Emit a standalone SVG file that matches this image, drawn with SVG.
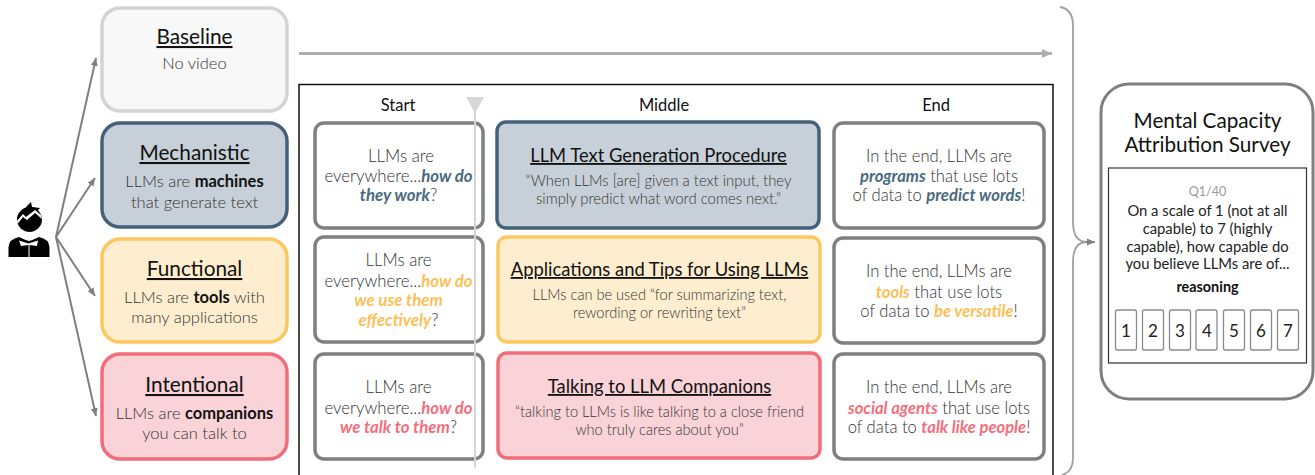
<svg xmlns="http://www.w3.org/2000/svg" width="1315" height="475" viewBox="0 0 1315 475">
<defs>
<marker id="ah" markerUnits="userSpaceOnUse" markerWidth="10" markerHeight="10" refX="8" refY="5" orient="auto"><path d="M0 1.5L8 5L0 8.5Z" fill="#7f7f7f"/></marker>
<marker id="ahl" markerUnits="userSpaceOnUse" markerWidth="12" markerHeight="12" refX="10" refY="6" orient="auto"><path d="M0 1.5L10 6L0 10.5Z" fill="#afafaf"/></marker>
</defs>
<style>
text{font-family:Lato,"Noto Sans","Liberation Sans",sans-serif;text-anchor:middle}
.h{font-size:20.8px;fill:#111;text-decoration:underline;text-decoration-thickness:1px}
.s{font-size:16.5px;font-weight:300;fill:#333}
.t{font-size:16.8px;font-weight:300;fill:#333}
.e{font-size:16.6px;font-weight:300;fill:#333}
.hm{font-size:18.4px;fill:#111;text-decoration:underline;text-decoration-thickness:1px}
.q{font-size:14.6px;font-weight:300;fill:#333}
.qm{font-size:14.9px}
.col{font-size:16.5px;fill:#111}
.b{font-weight:700;fill:#111}
.bi{font-weight:700;font-style:italic}
.mc{fill:#4a6a80}.fc{fill:#fdbf57}.ic{fill:#f56e7c}
.box{stroke-width:3.5;fill:#fff;stroke:#7f7f7f}
.base{fill:#f8f8f8;stroke:#d3d3d3}.mech{fill:#c7d0d8;stroke:#456179}.func{fill:#feeecf;stroke:#fdc75f}.inte{fill:#fad3d8;stroke:#f16d79}
.c{fill:none;stroke:#7f7f7f;stroke-width:2}
.sv{font-size:20.7px;fill:#111}
.sq{font-size:14.8px;fill:#222}
.n{font-size:17px;fill:#222}
.bt{fill:#fff;stroke:#8a8a8a;stroke-width:1.3}
</style>
<g id="connectors">
<line class="c" x1="56" y1="237" x2="96" y2="58" marker-end="url(#ah)"/>
<line class="c" x1="56" y1="237" x2="95" y2="178" marker-end="url(#ah)"/>
<line class="c" x1="56" y1="237" x2="95" y2="296" marker-end="url(#ah)"/>
<line class="c" x1="56" y1="237" x2="96" y2="416" marker-end="url(#ah)"/>
<line x1="299" y1="53.500" x2="1052" y2="53.500" stroke="#afafaf" stroke-width="3" marker-end="url(#ahl)"/>
<path d="M1060 7Q1073 9 1073 26V222Q1073 242 1087 242Q1073 242 1073 262V458Q1073 472 1062 475" fill="none" stroke="#a0a0a0" stroke-width="1.8"/>
<line x1="1085" y1="242" x2="1095" y2="242" stroke="#8a8a8a" stroke-width="1.8" marker-end="url(#ah)"/>
</g>
<g id="person">
<circle cx="29.500" cy="219.500" r="12.500" fill="#000"/>
<path d="M31 202l1 5 8 1-3 3-14 0 4-5z" fill="#000"/>
<path d="M17.500 224L23 217L27 220L35 213L42 219L41 215L35 210L26 217L23 214L17 221Z" fill="#fff"/>
<path d="M8.500 257V247Q9 239 19 237Q25 240 29 241Q33 240 39 237Q49 239 49.500 247V257Z" fill="#000"/>
<path d="M19 240.500L28.500 243.500L38 240.500L37 246L29.500 245V257H28.500V245L21 246Z" fill="#fff"/>
</g>
<g id="baseline"><rect class="box base" x="102" y="8" width="185" height="103" rx="18"/><text class="h" x="194.500" y="44">Baseline</text><text class="s" x="194.500" y="69">No video</text></g>
<g id="mechanistic"><rect class="box mech" x="102" y="123" width="185" height="104" rx="18"/><text class="h" x="194.500" y="160">Mechanistic</text><text class="s" x="194.500" y="187">LLMs are <tspan class="b">machines</tspan></text><text class="s" x="194.500" y="208">that generate text</text></g>
<g id="functional"><rect class="box func" x="102" y="239" width="185" height="103" rx="18"/><text class="h" x="194.500" y="276">Functional</text><text class="s" x="194.500" y="303">LLMs are <tspan class="b">tools</tspan> with</text><text class="s" x="194.500" y="323">many applications</text></g>
<g id="intentional"><rect class="box inte" x="102" y="354" width="185" height="105" rx="18"/><text class="h" x="194.500" y="392">Intentional</text><text class="s" x="194.500" y="419">LLMs are <tspan class="b">companions</tspan></text><text class="s" x="194.500" y="439">you can talk to</text></g>
<g id="video">
<rect x="299" y="84.500" width="754" height="400" fill="#fff" stroke="#111" stroke-width="1.500"/>
<text class="col" x="398" y="111">Start</text><text class="col" x="664" y="111">Middle</text><text class="col" x="936" y="111">End</text>
</g>
<g id="start-mech"><rect class="box" x="315" y="123" width="168" height="105" rx="9"/><text class="t" x="401" y="162">LLMs are</text><text class="t" x="398.500" y="182">everywhere...<tspan class="bi mc">how do</tspan></text><text class="t" x="398.500" y="201"><tspan class="bi mc">they work</tspan>?</text></g>
<g id="start-func"><rect class="box" x="315" y="237" width="168" height="105" rx="9"/><text class="t" x="398.500" y="266">LLMs are</text><text class="t" x="398.500" y="287">everywhere...<tspan class="bi fc">how do</tspan></text><text class="t" x="398.500" y="306"><tspan class="bi fc">we use them</tspan></text><text class="t" x="398.500" y="326"><tspan class="bi fc">effectively</tspan>?</text></g>
<g id="start-int"><rect class="box" x="315" y="354" width="168" height="105" rx="9"/><text class="t" x="398.500" y="393">LLMs are</text><text class="t" x="398.500" y="414">everywhere...<tspan class="bi ic">how do</tspan></text><text class="t" x="398.500" y="433"><tspan class="bi ic">we talk to them</tspan>?</text></g>
<g id="middle-mech"><rect class="box mech" x="497" y="122" width="322" height="106" rx="9"/><text class="hm" x="658.500" y="162">LLM Text Generation Procedure</text><text class="q qm" x="658.500" y="186">“When LLMs [are] given a text input, they</text><text class="q qm" x="658.500" y="204">simply predict what word comes next.”</text></g>
<g id="middle-func"><rect class="box func" x="498" y="237" width="322" height="105" rx="9"/><text class="hm" x="659.500" y="276">Applications and Tips for Using LLMs</text><text class="q" x="659.500" y="300">LLMs can be used “for summarizing text,</text><text class="q" x="659.500" y="318">rewording or rewriting text”</text></g>
<g id="middle-int"><rect class="box inte" x="498" y="353" width="322" height="105" rx="9"/><text class="hm" x="659.500" y="393">Talking to LLM Companions</text><text class="q" x="659.500" y="417">“talking to LLMs is like talking to a close friend</text><text class="q" x="659.500" y="435">who truly cares about you”</text></g>
<g id="end-mech"><rect class="box" x="834" y="123" width="210" height="105" rx="9"/><text class="e" x="939" y="162">In the end, LLMs are</text><text class="e" x="939" y="182"><tspan class="bi mc">programs</tspan> that use lots</text><text class="e" x="939" y="201">of data to <tspan class="bi mc">predict words</tspan>!</text></g>
<g id="end-func"><rect class="box" x="834" y="238" width="210" height="105" rx="9"/><text class="e" x="939" y="277">In the end, LLMs are</text><text class="e" x="939" y="298"><tspan class="bi fc">tools</tspan> that use lots</text><text class="e" x="939" y="317">of data to <tspan class="bi fc">be versatile</tspan>!</text></g>
<g id="end-int"><rect class="box" x="834" y="354" width="210" height="105" rx="9"/><text class="e" x="939" y="393">In the end, LLMs are</text><text class="e" x="939" y="414"><tspan class="bi ic">social agents</tspan> that use lots</text><text class="e" x="939" y="433">of data to <tspan class="bi ic">talk like people</tspan>!</text></g>
<g id="timeline"><line x1="475" y1="100" x2="475" y2="468" stroke="#d6d6d6" stroke-width="2"/><path d="M466 97H484L475 113Z" fill="#d6d6d6"/></g>
<g id="survey">
<rect x="1101" y="84" width="212" height="315" rx="28" fill="#fff" stroke="#7f7f7f" stroke-width="3"/>
<text class="sv" x="1207.500" y="128">Mental Capacity</text><text class="sv" x="1207.500" y="152">Attribution Survey</text>
<rect x="1108.500" y="168" width="198" height="195" fill="#fff" stroke="#333" stroke-width="1.200"/>
<text x="1207.500" y="196" font-size="12.500" fill="#999">Q1/40</text>
<text class="sq" x="1207.500" y="216">On a scale of 1 (not at all</text><text class="sq" x="1207.500" y="234">capable) to 7 (highly</text><text class="sq" x="1207.500" y="252">capable), how capable do</text><text class="sq" x="1207.500" y="269">you believe LLMs are of...</text>
<text x="1207.500" y="292" font-size="14.400" font-weight="700" fill="#111">reasoning</text>
<rect class="bt" x="1115.500" y="310" width="21" height="40" rx="2"/><text class="n" x="1126" y="337">1</text>
<rect class="bt" x="1142.500" y="310" width="21" height="40" rx="2"/><text class="n" x="1153" y="337">2</text>
<rect class="bt" x="1169.500" y="310" width="21" height="40" rx="2"/><text class="n" x="1180" y="337">3</text>
<rect class="bt" x="1196" y="310" width="21" height="40" rx="2"/><text class="n" x="1207" y="337">4</text>
<rect class="bt" x="1223.500" y="310" width="21" height="40" rx="2"/><text class="n" x="1234" y="337">5</text>
<rect class="bt" x="1250.500" y="310" width="21" height="40" rx="2"/><text class="n" x="1261" y="337">6</text>
<rect class="bt" x="1277.500" y="310" width="21" height="40" rx="2"/><text class="n" x="1288" y="337">7</text>
</g>
</svg>
